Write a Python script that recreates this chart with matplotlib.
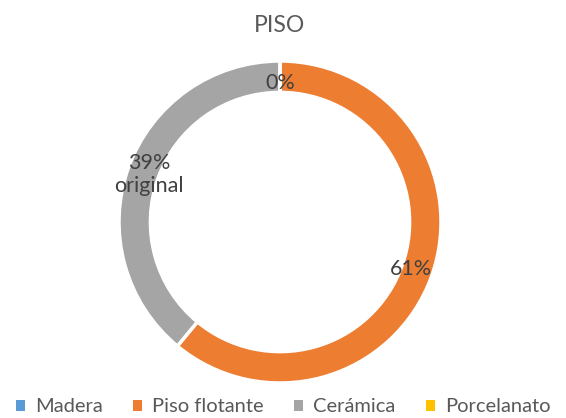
import matplotlib.pyplot as plt
import numpy as np
from matplotlib.patches import Patch

categories = ["Madera", "Piso flotante", "Cerámica", "Porcelanato"]
values = [0, 61, 39, 0]
point_labels = ["0%", "61%", "39%\noriginal", ""]
colors = ["#5B9BD5", "#ED7D31", "#A5A5A5", "#FFC000"]

plt.rcParams["font.family"] = ["Lato", "DejaVu Sans"]

W, H = 566, 418
fig = plt.figure(figsize=(W / 100, H / 100), dpi=100)

cx, cy, r = 280, 222, 161
ax = fig.add_axes([(cx - r) / W, (H - cy - r) / H, 2 * r / W, 2 * r / H])

wedges, _ = ax.pie(
    values,
    colors=colors,
    startangle=90,
    counterclock=False,
    radius=1,
    wedgeprops=dict(width=0.195, edgecolor="white", linewidth=2.5),
)
ax.set_xlim(-1, 1)
ax.set_ylim(-1, 1)
ax.set_aspect("equal")
ax.axis("off")

for w, lab in zip(wedges, point_labels):
    if not lab:
        continue
    ang = np.deg2rad((w.theta1 + w.theta2) / 2)
    ax.text(0.865 * np.cos(ang), 0.865 * np.sin(ang), lab, ha="center", va="center",
            fontsize=15.5, color="#404040", linespacing=1.2)

fig.text(cx / W, 1 - 25 / H, "PISO", ha="center", va="center", fontsize=16.5, color="#595959")

handles = [Patch(facecolor=c, edgecolor="none") for c in colors]
fig.legend(handles, categories, loc="center", bbox_to_anchor=(0.5, 1 - 407 / H), ncol=4,
           frameon=False, fontsize=14.5, labelcolor="#595959", handlelength=0.45,
           handleheight=0.45, handletextpad=0.5, columnspacing=1.5)

fig.savefig("out.png", dpi=100)
